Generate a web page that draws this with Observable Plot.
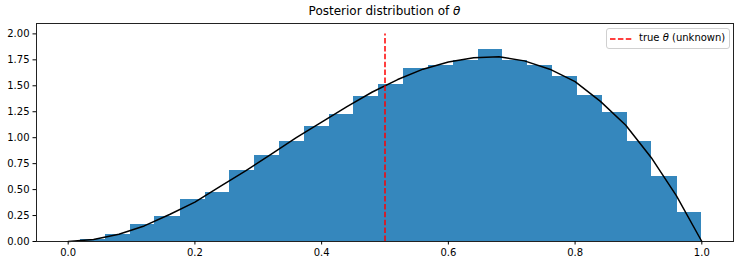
<!DOCTYPE html>
<html>
<head>
<meta charset="utf-8">
<script src="https://cdn.jsdelivr.net/npm/d3@7"></script>
<script src="https://cdn.jsdelivr.net/npm/@observablehq/plot@0.6"></script>
<style>
  body { margin: 0; background: white; }
  #wrap { position: relative; width: 741px; height: 265px; font-family: "DejaVu Sans", sans-serif; }
  #title { position: absolute; top: 4px; left: 36px; width: 697px; text-align: center; font-size: 12px; line-height: 14px; color: #000; }
  #legend { position: absolute; left: 606px; top: 28px; width: 122px; height: 19px; border: 1px solid #d0d0d0; border-radius: 3px; background: rgba(255,255,255,0.8); font-size: 10px; color: #000; }
  #legend svg { position: absolute; left: 2px; top: 4px; }
  #legend span { position: absolute; left: 32px; top: 3px; line-height: 12px; white-space: nowrap; }
  i { font-style: italic; }
</style>
</head>
<body>
<div id="wrap">
  <div id="chart"></div>
  <div id="title">Posterior distribution of <i>θ</i></div>
  <div id="legend">
    <svg width="24" height="12"><line x1="1" x2="23" y1="6" y2="6" stroke="red" stroke-width="1.5" stroke-dasharray="5.5,2.4"/></svg>
    <span>true <i>θ</i> (unknown)</span>
  </div>
</div>
<script>
// Histogram bin edges (25 bins) and bar heights (density)
const binEdges = [0.020, 0.059, 0.098, 0.137, 0.177, 0.216, 0.255, 0.294, 0.333, 0.373,
                  0.412, 0.451, 0.490, 0.529, 0.569, 0.608, 0.647, 0.686, 0.725, 0.765,
                  0.804, 0.843, 0.882, 0.921, 0.961, 1.000];
const barHeights = [0.02, 0.07, 0.165, 0.24, 0.405, 0.47, 0.685, 0.83, 0.96, 1.11,
                    1.225, 1.40, 1.515, 1.67, 1.70, 1.74, 1.845, 1.74, 1.70, 1.585,
                    1.41, 1.24, 0.965, 0.63, 0.28];
// Posterior density curve
const curveX = [0, 0.04, 0.08, 0.12, 0.16, 0.20, 0.24, 0.28, 0.32, 0.36, 0.40, 0.44, 0.48,
                0.52, 0.56, 0.60, 0.64, 0.68, 0.72, 0.76, 0.80, 0.84, 0.88, 0.92, 0.96, 1.00];
const curveY = [0, 0.02, 0.07, 0.15, 0.26, 0.38, 0.53, 0.68, 0.84, 1.00, 1.15, 1.30, 1.44,
                1.56, 1.66, 1.73, 1.77, 1.78, 1.74, 1.66, 1.54, 1.35, 1.12, 0.81, 0.44, 0];
// True theta
const trueTheta = [0.5];
const trueThetaTop = 2.0;
// Tick values
const xTicks = [0, 0.2, 0.4, 0.6, 0.8, 1.0];
const yTicks = [0, 0.25, 0.5, 0.75, 1.0, 1.25, 1.5, 1.75, 2.0];

const bars = barHeights.map((h, i) => ({x1: binEdges[i], x2: binEdges[i + 1], y: h}));
const curve = curveX.map((x, i) => ({x, y: curveY[i]}));

const chart = Plot.plot({
  width: 741,
  height: 265,
  marginLeft: 36,
  marginRight: 8,
  marginTop: 23,
  marginBottom: 24,
  style: {fontFamily: "DejaVu Sans, sans-serif", fontSize: "10px", color: "#000", background: "white"},
  x: {domain: [-0.05, 1.05]},
  y: {domain: [0, 2.1]},
  marks: [
    Plot.rectY(bars, {x1: "x1", x2: "x2", y1: 0, y2: "y", fill: "#3587bd", inset: 0, shapeRendering: "crispEdges"}),
    Plot.line(curve, {x: "x", y: "y", stroke: "black", strokeWidth: 1.5}),
    Plot.ruleX(trueTheta, {y1: 0, y2: trueThetaTop, stroke: "red", strokeWidth: 1.5, strokeDasharray: "5.5,2.4"}),
    Plot.frame({stroke: "#222", strokeWidth: 1}),
    Plot.axisX({ticks: xTicks, tickFormat: d3.format(".1f"), tickSize: 3.5, tickPadding: 3.5, label: null}),
    Plot.axisY({ticks: yTicks, tickFormat: d3.format(".2f"), tickSize: 3.5, tickPadding: 3.5, label: null})
  ]
});
document.getElementById("chart").appendChild(chart);
</script>
</body>
</html>
